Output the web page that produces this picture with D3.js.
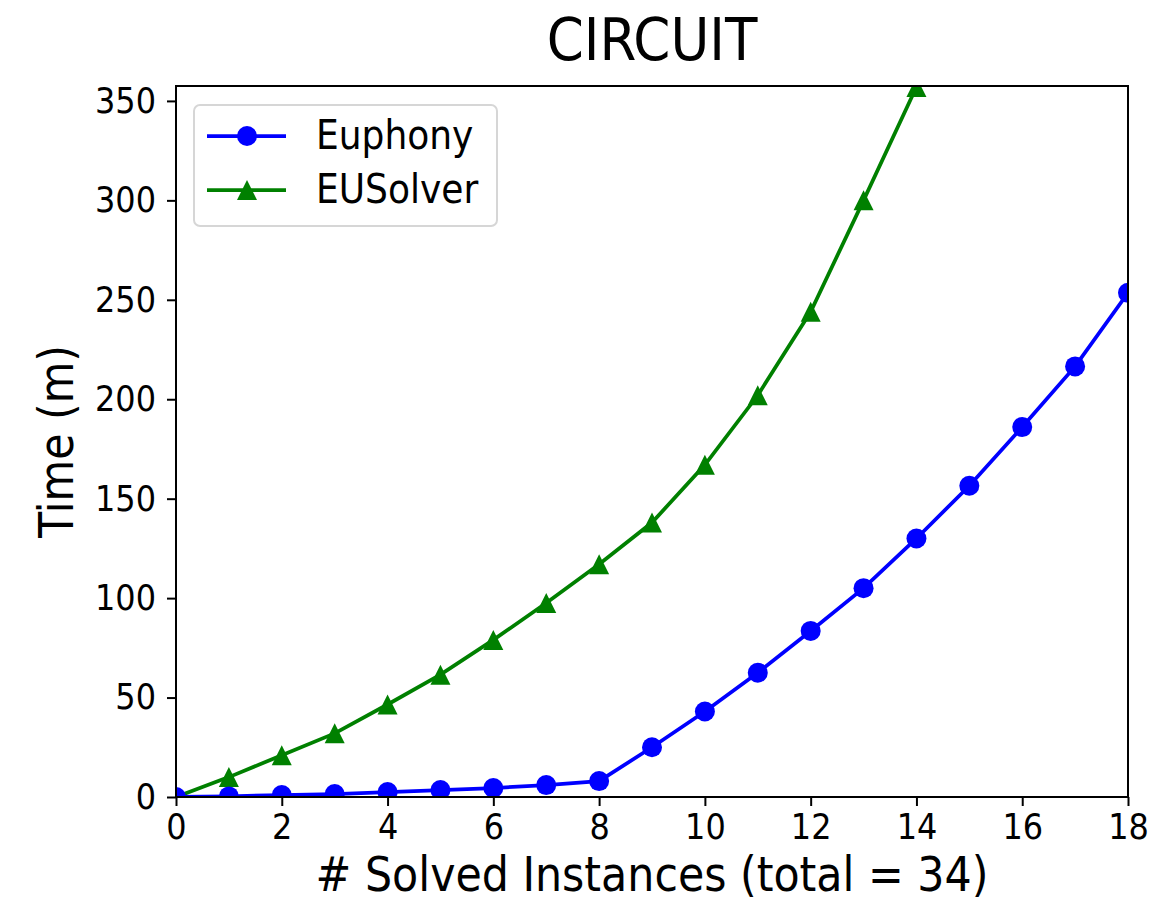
<!DOCTYPE html>
<html>
<head>
<meta charset="utf-8">
<script src="https://cdn.jsdelivr.net/npm/d3@7"></script>
<style>
  html, body { margin: 0; padding: 0; background: #fff; }
  svg { display: block; font-family: "DejaVu Sans Condensed", "DejaVu Sans", sans-serif; font-stretch: condensed; }
</style>
</head>
<body>
<svg id="chart" width="1151" height="909"></svg>
<script>
// Solved instances (x) and cumulative time in minutes (y)
const instances = [0, 1, 2, 3, 4, 5, 6, 7, 8, 9, 10, 11, 12, 13, 14, 15, 16, 17, 18];
const euphonyTimes = [0, 0.3, 1, 1.5, 2.5, 3.5, 4.5, 6, 8, 25, 43, 62.5, 83.5, 105, 130, 156.5, 186, 216.5, 253.5];
const eusolverInstances = [0, 1, 2, 3, 4, 5, 6, 7, 8, 9, 10, 11, 12, 13, 14];
const eusolverTimes = [0, 10, 21, 32, 46.5, 61.5, 79, 97.5, 117, 138, 167, 202, 244, 300, 357];
const xTicks = [0, 2, 4, 6, 8, 10, 12, 14, 16, 18];
const yTicks = [0, 50, 100, 150, 200, 250, 300, 350];
const seriesNames = ["Euphony", "EUSolver"];

const FONT = '"DejaVu Sans Condensed", "DejaVu Sans", sans-serif';

const svg = d3.select("#chart");
const margin = { left: 176, right: 23, top: 86, bottom: 112 };
const W = 1151, H = 909;
const iw = W - margin.left - margin.right;
const ih = H - margin.top - margin.bottom;

const x = d3.scaleLinear().domain([0, 18]).range([0, iw]);
const y = d3.scaleLinear().domain([0, 357.5]).range([ih, 0]);

const g = svg.append("g").attr("transform", `translate(${margin.left},${margin.top})`);

svg.append("defs").append("clipPath").attr("id", "plotClip")
  .append("rect").attr("x", 0).attr("y", 0).attr("width", iw).attr("height", ih);

// Axes
const xAxis = d3.axisBottom(x).tickValues(xTicks).tickSize(9).tickPadding(8).tickFormat(d3.format("d"));
const yAxis = d3.axisLeft(y).tickValues(yTicks).tickSize(9).tickPadding(11).tickFormat(d3.format("d"));

const gx = g.append("g").attr("transform", `translate(0,${ih})`).call(xAxis);
const gy = g.append("g").call(yAxis);
[gx, gy].forEach(ax => {
  ax.attr("font-family", FONT).attr("font-size", null);
  ax.select(".domain").remove();
  ax.selectAll(".tick line").attr("stroke", "#000").attr("stroke-width", 2);
  ax.selectAll(".tick text").attr("fill", "#000")
    .style("font-family", FONT).style("font-stretch", "condensed").style("font-size", "35.5px");
});

// Series lines and markers
const plot = g.append("g").attr("clip-path", "url(#plotClip)");
const line = d3.line().x(d => x(d[0])).y(d => y(d[1]));

const euData = instances.map((v, i) => [v, euphonyTimes[i]]);
const esData = eusolverInstances.map((v, i) => [v, eusolverTimes[i]]);

// upward triangle centred on the point, 20px wide and tall
const triPath = "M0,-10L10,10L-10,10Z";

plot.append("path").datum(esData).attr("d", line)
  .attr("fill", "none").attr("stroke", "#008000").attr("stroke-width", 3.75);
plot.selectAll(".tri").data(esData).enter().append("path")
  .attr("d", triPath).attr("transform", d => `translate(${x(d[0])},${y(d[1])})`)
  .attr("fill", "#008000");

plot.append("path").datum(euData).attr("d", line)
  .attr("fill", "none").attr("stroke", "#0000ff").attr("stroke-width", 3.75);
plot.selectAll(".dot").data(euData).enter().append("circle")
  .attr("cx", d => x(d[0])).attr("cy", d => y(d[1])).attr("r", 10)
  .attr("fill", "#0000ff");

// Frame
g.append("rect").attr("x", 0).attr("y", 0).attr("width", iw).attr("height", ih)
  .attr("fill", "none").attr("stroke", "#000").attr("stroke-width", 2);

// Titles
svg.append("text").attr("x", margin.left + iw / 2).attr("y", 60)
  .attr("text-anchor", "middle").style("font-size", "59px").text("CIRCUIT");
svg.append("text").attr("x", margin.left + iw / 2).attr("y", 891)
  .attr("text-anchor", "middle").style("font-size", "47.5px").text("# Solved Instances (total = 34)");
svg.append("text").attr("transform", `translate(73,${margin.top + ih / 2}) rotate(-90)`)
  .attr("text-anchor", "middle").style("font-size", "47.5px").text("Time (m)");

// Legend
const lg = svg.append("g").attr("transform", "translate(194,105)");
lg.append("rect").attr("x", 0).attr("y", 0).attr("width", 303).attr("height", 121)
  .attr("rx", 6).attr("fill", "#fff").attr("fill-opacity", 0.8)
  .attr("stroke", "#d6d6d6").attr("stroke-width", 2);
const rows = [
  { name: seriesNames[0], color: "#0000ff", marker: "circle", cy: 31 },
  { name: seriesNames[1], color: "#008000", marker: "tri", cy: 85 }
];
rows.forEach(r => {
  lg.append("line").attr("x1", 13).attr("x2", 92).attr("y1", r.cy).attr("y2", r.cy)
    .attr("stroke", r.color).attr("stroke-width", 3.75);
  if (r.marker === "circle") {
    lg.append("circle").attr("cx", 53).attr("cy", r.cy).attr("r", 10).attr("fill", r.color);
  } else {
    lg.append("path").attr("d", triPath).attr("transform", `translate(53,${r.cy})`).attr("fill", r.color);
  }
  lg.append("text").attr("x", 122).attr("y", r.cy + 13).style("font-size", "40px").text(r.name);
});
</script>
</body>
</html>
